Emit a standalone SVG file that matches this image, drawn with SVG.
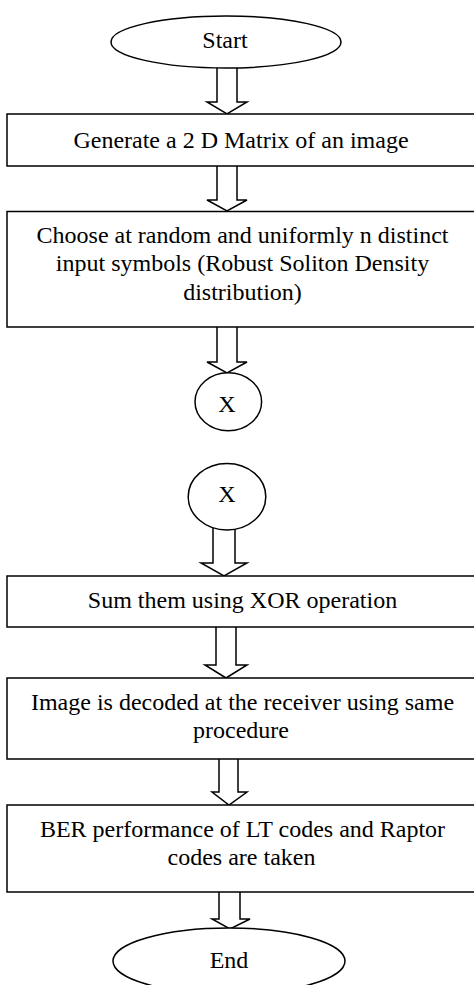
<svg xmlns="http://www.w3.org/2000/svg" width="474" height="985" viewBox="0 0 474 985">
<style>
.shape{fill:#fff;stroke:#000;stroke-width:1.5}
.arrow{fill:#fff;stroke:#000;stroke-width:1.5;stroke-linejoin:miter}
.t{font-family:"Liberation Serif","Times New Roman",serif;font-size:24px;fill:#000;text-anchor:middle}
</style>
<rect width="474" height="985" fill="#fff"/>
<g id="connectors">
<path class="arrow" d="M217 64 V102 H207 L227 114 L247 102 H237 V64"/>
<path class="arrow" d="M217 166 V200 H207 L227 211 L247 200 H237 V166"/>
<path class="arrow" d="M217 327 V362 H207 L227 373 L247 362 H237 V327"/>
<path class="arrow" d="M213 522 V563 H201 L224 576 L247 563 H235 V522"/>
<path class="arrow" d="M216 627 V665 H205 L226 678 L247 665 H236 V627"/>
<path class="arrow" d="M219 759 V792 H212 L229 805 L247 792 H238 V759"/>
<path class="arrow" d="M219 892 V919 H212 L230 929 L250 919 H240 V892"/>
</g>
<g id="start">
<ellipse class="shape" cx="226" cy="42" rx="115" ry="26"/>
<text class="t" x="225" y="48">Start</text>
</g>
<g id="generate">
<rect class="shape" x="7" y="114" width="472" height="52"/>
<text class="t" x="241" y="148">Generate a 2 D Matrix of an image</text>
</g>
<g id="choose">
<rect class="shape" x="7" y="211.5" width="472" height="115.5"/>
<text class="t" x="242.5" y="242.5">Choose at random and uniformly n distinct</text>
<text class="t" x="242.5" y="271">input symbols (Robust Soliton Density</text>
<text class="t" x="242.5" y="300">distribution)</text>
</g>
<g id="x1">
<ellipse class="shape" cx="228.3" cy="401.7" rx="33.3" ry="29"/>
<text class="t" x="227" y="411.5">X</text>
</g>
<g id="x2">
<ellipse class="shape" cx="227" cy="496.7" rx="38.8" ry="33.3"/>
<text class="t" x="227" y="501.5">X</text>
</g>
<g id="sum">
<rect class="shape" x="7" y="576" width="472" height="51"/>
<text class="t" x="242.5" y="608">Sum them using XOR operation</text>
</g>
<g id="decode">
<rect class="shape" x="7" y="678" width="472" height="81"/>
<text class="t" x="242.5" y="710">Image is decoded at the receiver using same</text>
<text class="t" x="241" y="738">procedure</text>
</g>
<g id="ber">
<rect class="shape" x="7" y="805" width="472" height="87"/>
<text class="t" x="242.5" y="836.5">BER performance of LT codes and Raptor</text>
<text class="t" x="241.5" y="865">codes are taken</text>
</g>
<g id="end">
<ellipse class="shape" cx="229" cy="961" rx="116" ry="33"/>
<text class="t" x="229" y="968">End</text>
</g>
</svg>
